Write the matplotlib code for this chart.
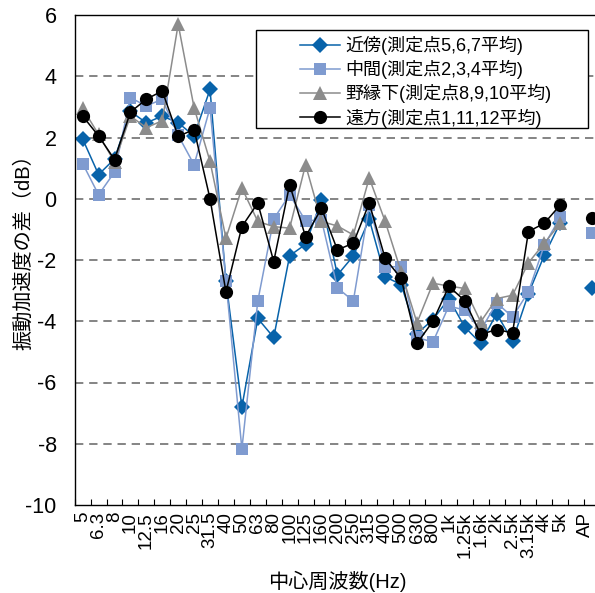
import numpy as np
import matplotlib.pyplot as plt
from matplotlib.patches import Rectangle
from matplotlib.transforms import ScaledTranslation

plt.rcParams["font.family"] = ["Liberation Sans", "Noto Sans CJK JP"]

OUTPUT_FIG = "out.png"

FREQ_LABELS = ["5", "6.3", "8", "10", "12.5", "16", "20", "25", "31.5", "40",
               "50", "63", "80", "100", "125", "160", "200", "250", "315", "400",
               "500", "630", "800", "1k", "1.25k", "1.6k", "2k", "2.5k", "3.15k",
               "4k", "5k", "", "AP"]

nan = np.nan
# 近傍(測定点5,6,7平均)
kinbo = [1.95, 0.79, 1.30, 2.85, 2.48, 2.70, 2.48, 2.05, 3.57, -2.70,
         -6.80, -3.91, -4.53, -1.86, -1.49, -0.05, -2.49, -1.87, -0.67, -2.55,
         -2.80, -4.40, -3.95, -3.26, -4.19, -4.72, -3.75, -4.65, -3.10, -1.84,
         -0.78, nan, -2.90]
# 中間(測定点2,3,4平均)
chukan = [1.15, 0.13, 0.87, 3.30, 3.03, 3.25, 2.07, 1.11, 2.97, -2.68,
          -8.17, -3.34, -0.66, 0.13, -0.72, -0.69, -2.91, -3.34, -0.20, -2.22,
          -2.22, -4.53, -4.68, -3.50, -3.64, -4.30, -3.40, -3.86, -3.04, -1.51,
          -0.60, nan, -1.12]
# 野縁下(測定点8,9,10平均)
nobe = [2.95, 2.10, 1.20, 2.70, 2.32, 2.55, 5.70, 2.97, 1.22, -1.29,
        0.35, -0.74, -0.91, -0.96, 1.11, -0.74, -0.89, -1.18, 0.68, -0.74,
        -2.38, -4.05, -2.76, -2.85, -2.93, -4.02, -3.26, -3.15, -2.09, -1.45,
        -0.80, nan, nan]
# 遠方(測定点1,11,12平均)
enpo = [2.70, 2.05, 1.28, 2.83, 3.25, 3.52, 2.04, 2.26, 0.00, -3.04,
        -0.91, -0.14, -2.05, 0.46, -1.24, -0.31, -1.67, -1.45, -0.14, -1.95,
        -2.60, -4.72, -4.00, -2.86, -3.33, -4.43, -4.27, -4.38, -1.07, -0.80,
        -0.20, nan, -0.63]

SERIES = [
    ("近傍(測定点5,6,7平均)", kinbo, "#0863AA", "D", 8.5),
    ("中間(測定点2,3,4平均)", chukan, "#7F9BD0", "s", 8.5),
    ("野縁下(測定点8,9,10平均)", nobe, "#8C8C8C", "^", 9.5),
    ("遠方(測定点1,11,12平均)", enpo, "#000000", "o", 9.5),
]


def main():
    fig = plt.figure(figsize=(5.95, 5.93), dpi=100)
    ax = fig.add_axes([74.7 / 595, 88 / 593, 525.4 / 595, 490 / 593])

    x = np.arange(len(FREQ_LABELS))
    handles = []
    for label, vals, color, marker, ms in SERIES:
        (h,) = ax.plot(x, vals, color=color, marker=marker, markersize=ms,
                       markeredgewidth=0, linewidth=1.1, label=label,
                       clip_on=False)
        handles.append(h)

    ax.set_xlim(-0.5, len(FREQ_LABELS) - 0.5)
    ax.set_ylim(-10, 6)
    ax.set_yticks(np.arange(-10, 7, 2))
    ax.set_yticklabels([str(v) for v in range(-10, 7, 2)], fontsize=15.5)
    ax.tick_params(axis="y", length=0, pad=13)

    ax.set_xticks(x)
    ax.set_xticklabels(FREQ_LABELS, rotation=90, fontsize=13.5, va="top")
    ax.set_xticks(np.arange(-0.5, len(FREQ_LABELS), 1), minor=True)
    ax.tick_params(axis="x", which="major", length=0, pad=5)
    ax.tick_params(axis="x", which="minor", direction="in", length=4,
                   width=0.8, color="black")
    # nudge the last label (AP) so it stays inside the picture
    ap = ax.get_xticklabels()[-1]
    ap.set_transform(ap.get_transform()
                     + ScaledTranslation(-5 / 72, 0, fig.dpi_scale_trans))

    for yv in range(-8, 6, 2):
        ax.axhline(yv, color="#707070", linestyle=(0, (5, 3.5)),
                   linewidth=1.2, zorder=0.5)

    for side in ["left", "bottom", "top"]:
        ax.spines[side].set_color("black")
        ax.spines[side].set_linewidth(1.0)
    ax.spines["right"].set_visible(False)

    ax.set_xlabel("中心周波数(Hz)", fontsize=14.5)
    ax.xaxis.set_label_coords((337 - 74.7) / 525.4, -0.135)
    ax.set_ylabel("振動加速度の差（dB）", fontsize=14.5)
    ax.yaxis.set_label_coords(-0.079, 0.527)

    # legend box drawn separately so entries can sit centred in it
    box = Rectangle((256 / 595, 1 - 128 / 593), (588 - 256) / 595, 98 / 593,
                    transform=fig.transFigure, facecolor="white",
                    edgecolor="black", linewidth=1.0, zorder=5)
    ax.add_patch(box)
    leg = ax.legend(handles=handles, loc="upper left",
                    bbox_to_anchor=(300 / 595, 1 - 36 / 593),
                    bbox_transform=fig.transFigure, frameon=False,
                    fontsize=13, handlelength=2.2, handletextpad=0.3,
                    borderpad=0, borderaxespad=0, labelspacing=0.28)
    leg.set_zorder(6)

    plt.savefig(OUTPUT_FIG)


if __name__ == "__main__":
    main()
